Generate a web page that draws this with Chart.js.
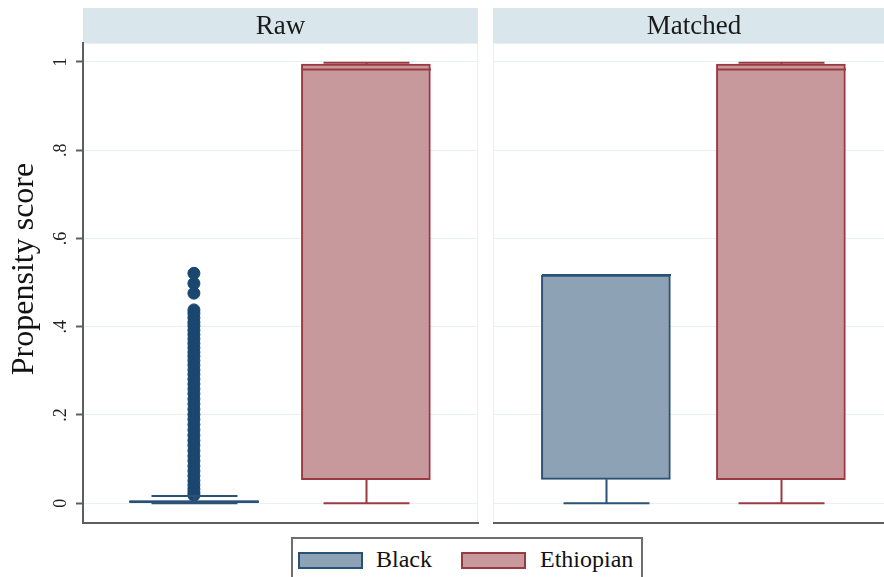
<!DOCTYPE html>
<html>
<head>
<meta charset="utf-8">
<script src="https://cdn.jsdelivr.net/npm/chart.js@4.4.1/dist/chart.umd.min.js"></script>
<style>
html, body { margin: 0; padding: 0; overflow: hidden; background: #fff; }
body { width: 884px; height: 577px; position: relative; font-family: 'Liberation Serif', 'Times New Roman', serif; }
#panelRaw { position: absolute; left: 0; top: 0; }
#panelMatched { position: absolute; left: 493px; top: 0; }
#leyenda {
    position: absolute; left: 291px; top: 537px; width: 352px; height: 60px;
    border: 2px solid #6e6e6e; box-sizing: border-box; background: #fff;
}
#leyenda .muestra { position: absolute; top: 13px; width: 61px; height: 13px; border: 2px solid; }
#leyenda .txt { position: absolute; top: 6px; font-size: 24px; color: #111; line-height: 28px; }
</style>
</head>
<body>
<canvas id="panelRaw" width="485" height="577"></canvas>
<canvas id="panelMatched" width="402" height="577"></canvas>
<div id="leyenda">
    <span class="muestra" style="left:5px;background:#8da2b5;border-color:#2a5276"></span>
    <span class="txt" style="left:83px">Black</span>
    <span class="muestra" style="left:168px;background:#c8999c;border-color:#9c3a44"></span>
    <span class="txt" style="left:247px">Ethiopian</span>
</div>
<script>
// paneles y grupos
const paneles = ['Raw', 'Matched'];
const grupos = ['Black', 'Ethiopian'];
const posiciones = [1, 2];
const tituloY = 'Propensity score';

// eje y
const yTicks = [0, 0.2, 0.4, 0.6, 0.8, 1];
const yTickLabels = ['0', '.2', '.4', '.6', '.8', '1'];

// Raw: [Black, Ethiopian]
const rawQ1 = [0.001, 0.053];
const rawMediana = [0.003, 0.983];
const rawQ3 = [0.006, 0.995];
const rawBajo = [0.000, 0.000];
const rawAlto = [0.016, 0.998];
const rawOutliersBlack = [0.521, 0.498, 0.476, 0.438, 0.430, 0.420, 0.410, 0.402, 0.392, 0.382,
    0.372, 0.362, 0.352, 0.342, 0.333, 0.323, 0.313, 0.302, 0.292, 0.281, 0.270, 0.259, 0.248,
    0.236, 0.225, 0.213, 0.201, 0.190, 0.178, 0.166, 0.154, 0.142, 0.131, 0.119, 0.107, 0.096,
    0.084, 0.073, 0.062, 0.051, 0.041, 0.032, 0.024, 0.018];

// Matched: [Black, Ethiopian]
const matQ1 = [0.054, 0.053];
const matMediana = [0.517, 0.983];
const matQ3 = [0.517, 0.995];
const matBajo = [0.000, 0.000];
const matAlto = [0.517, 0.998];

const colorRelleno = ['#8da2b5', '#c8999c'];
const colorBorde = ['#2a5276', '#9c3a44'];
const colorOutlier = '#1a476f';
const colorGrid = '#e8f0f2';
const colorEje = '#5e5e5e';
const anchoCaja = 129;
const anchoTope = 86;

// encabezado gris azulado, marco tenue del area y titulo del eje y
const panelHeader = {
    id: 'panelHeader',
    beforeDraw(chart, args, opts) {
        const ctx = chart.ctx;
        const a = chart.chartArea;
        ctx.save();
        ctx.fillStyle = '#d9e6eb';
        ctx.fillRect(a.left, 8, a.right - a.left, a.top - 8);
        ctx.fillStyle = '#1a1a1a';
        ctx.font = '27px "Liberation Serif"';
        ctx.textAlign = 'center';
        ctx.textBaseline = 'middle';
        ctx.fillText(opts.texto, (a.left + a.right) / 2, (8 + a.top) / 2 + 1);
        ctx.strokeStyle = colorGrid;
        ctx.lineWidth = 1;
        ctx.strokeRect(a.left + 0.5, a.top + 0.5, a.right - a.left - 1, a.bottom - a.top - 1);
        if (opts.tituloY) {
            ctx.translate(25, 269);
            ctx.rotate(-Math.PI / 2);
            ctx.font = '32px "Liberation Serif"';
            ctx.fillStyle = '#111';
            ctx.fillText(opts.tituloY, 0, 0);
        }
        ctx.restore();
    }
};

// bigotes, topes y mediana
const cajaExtras = {
    id: 'cajaExtras',
    afterDatasetsDraw(chart, args, opts) {
        const ctx = chart.ctx;
        const x = chart.scales.x, y = chart.scales.y;
        ctx.save();
        ctx.lineWidth = 2;
        posiciones.forEach((p, i) => {
            const cx = Math.round(x.getPixelForValue(p)) + 0.5;
            ctx.strokeStyle = colorBorde[i];
            const yq1 = y.getPixelForValue(opts.q1[i]);
            const yq3 = y.getPixelForValue(opts.q3[i]);
            const yb = y.getPixelForValue(opts.bajo[i]);
            const ya = y.getPixelForValue(opts.alto[i]);
            const ym = y.getPixelForValue(opts.mediana[i]);
            ctx.beginPath();
            ctx.moveTo(cx, yq1); ctx.lineTo(cx, yb);
            ctx.moveTo(cx - anchoTope / 2, yb); ctx.lineTo(cx + anchoTope / 2, yb);
            if (opts.alto[i] > opts.q3[i]) {
                ctx.moveTo(cx, yq3); ctx.lineTo(cx, ya);
                ctx.moveTo(cx - anchoTope / 2, ya); ctx.lineTo(cx + anchoTope / 2, ya);
            }
            ctx.moveTo(cx - anchoCaja / 2, ym); ctx.lineTo(cx + anchoCaja / 2, ym);
            ctx.stroke();
        });
        ctx.restore();
    }
};

function cajas(q1, q3) {
    return grupos.map((g, i) => ({
        type: 'bar',
        label: g,
        data: [{ x: posiciones[i], y: [q1[i], q3[i]] }],
        backgroundColor: colorRelleno[i],
        borderColor: colorBorde[i],
        borderWidth: 2,
        borderSkipped: false,
        barThickness: anchoCaja,
        grouped: false
    }));
}

function opciones(titulo, conEje, q1, mediana, q3, bajo, alto) {
    return {
        responsive: false,
        animation: false,
        layout: { padding: { top: 43, bottom: 54, left: 0, right: 0 } },
        plugins: {
            legend: { display: false },
            tooltip: { enabled: false },
            panelHeader: { texto: titulo, tituloY: conEje ? tituloY : null },
            cajaExtras: { q1: q1, mediana: mediana, q3: q3, bajo: bajo, alto: alto }
        },
        scales: {
            x: {
                type: 'linear',
                min: 0.355,
                max: 2.652,
                offset: false,
                ticks: { display: false },
                grid: { display: false, drawTicks: false },
                border: { display: true, color: colorEje, width: 2 },
                afterFit: (s) => { s.height = 0; }
            },
            y: {
                type: 'linear',
                min: -0.045,
                max: 1.043,
                afterBuildTicks: (s) => { s.ticks = yTicks.map(v => ({ value: v })); },
                ticks: {
                    display: conEje,
                    minRotation: 90,
                    maxRotation: 90,
                    crossAlign: 'center',
                    padding: 8,
                    color: '#222',
                    font: { family: 'Liberation Serif', size: 18 },
                    callback: (v) => yTickLabels[yTicks.indexOf(v)]
                },
                grid: {
                    color: colorGrid,
                    lineWidth: 1,
                    drawTicks: conEje,
                    tickLength: 7,
                    tickColor: colorEje,
                    tickWidth: 2
                },
                border: { display: conEje, color: colorEje, width: 2 },
                afterFit: (s) => { s.width = conEje ? 83 : 0; }
            }
        }
    };
}

const datosRaw = cajas(rawQ1, rawQ3);
datosRaw.push({
    type: 'scatter',
    label: 'outliers',
    data: rawOutliersBlack.map(v => ({ x: posiciones[0], y: v })),
    backgroundColor: colorOutlier,
    borderColor: colorOutlier,
    pointRadius: 6,
    borderWidth: 1
});

new Chart(document.getElementById('panelRaw'), {
    type: 'bar',
    data: { datasets: datosRaw },
    options: opciones(paneles[0], true, rawQ1, rawMediana, rawQ3, rawBajo, rawAlto),
    plugins: [panelHeader, cajaExtras]
});

new Chart(document.getElementById('panelMatched'), {
    type: 'bar',
    data: { datasets: cajas(matQ1, matQ3) },
    options: opciones(paneles[1], false, matQ1, matMediana, matQ3, matBajo, matAlto),
    plugins: [panelHeader, cajaExtras]
});
</script>
</body>
</html>
